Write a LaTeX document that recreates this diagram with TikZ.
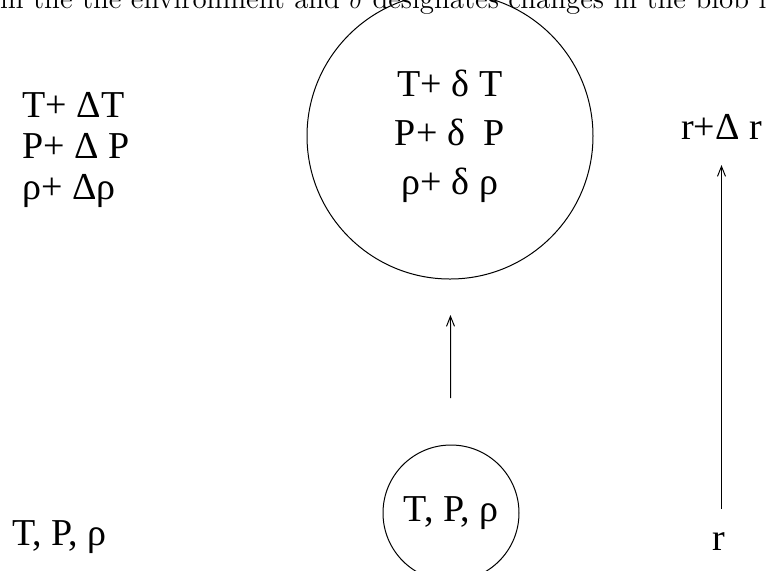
\documentclass[tikz,border=0pt]{standalone}
\usepackage{fontspec}
\newfontfamily\tnr{Liberation Serif}
\usetikzlibrary{arrows.meta}

\begin{document}
\begin{tikzpicture}[
x=0.5pt,
y=-0.5pt,
line width=0.5pt,
>={Straight Barb[length=5pt,width=4pt]},
every node/.style={
inner sep=0pt,
font=\tnr\fontsize{19}{20.5}\selectfont
},
blob/.style={
draw,
circle,
align=center,
font=\tnr\fontsize{19}{24.5}\selectfont
}
]

\useasboundingbox (0,0) rectangle (767,570);
\clip (0,0) rectangle (767,570);

\node[anchor=base west, font=\rmfamily\fontsize{14.5}{17}\selectfont] (cap) at (372,8)
{\llap{in the the environment and $\delta$ }designates changes in the blob is};

\node[anchor=north west, align=left] (env) at (22,92) {T+ ΔT\\P+ Δ P\\ρ+ Δρ};
\node[anchor=base west] (env0) at (12,545) {T, P, ρ};

\node[blob, minimum size=143pt, outer sep=18pt] (big) at (450,136) {T+ δ T\\P+ δ\ \ P\\ρ+ δ ρ};
\node[blob, minimum size=68pt, outer sep=23.5pt] (small) at (451,513) {T, P, ρ};

\draw[->] (small) -- (big);

\node[anchor=base, outer sep=13pt] (r1) at (721.5,139) {r+Δ r};
\node[anchor=base, outer sep=11.5pt] (r0) at (718.5,550) {r};

\draw[->] (r1.south |- r0.north) -- (r1.south);

\end{tikzpicture}
\end{document}
